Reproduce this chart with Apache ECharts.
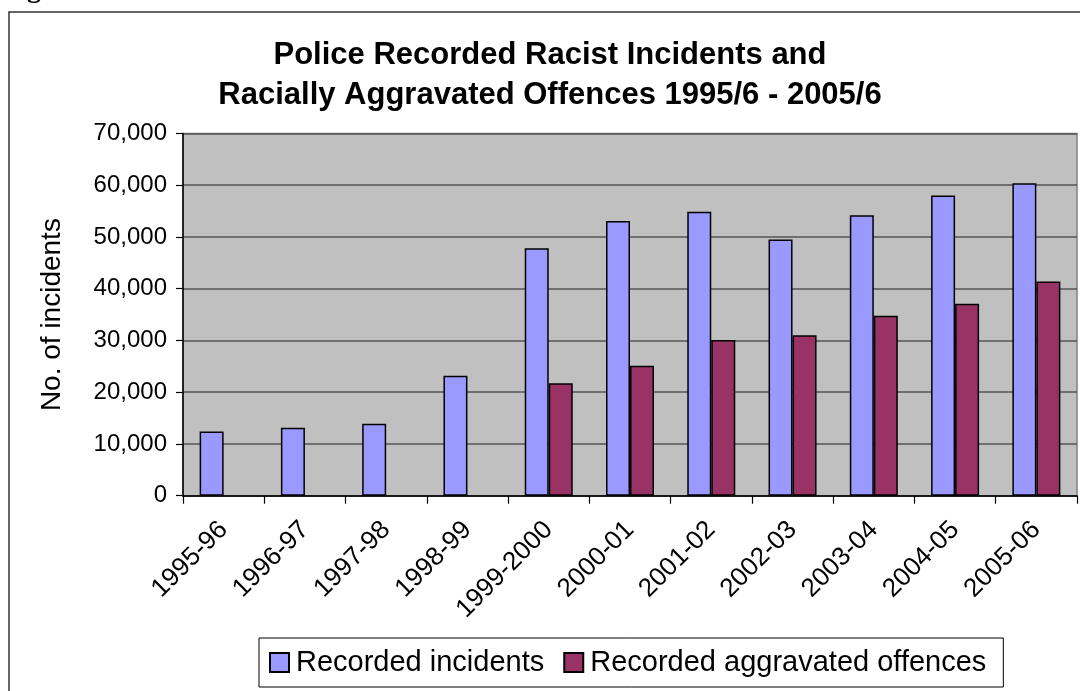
<!DOCTYPE html>
<html>
<head>
<meta charset="utf-8">
<script src="https://cdn.jsdelivr.net/npm/echarts@6/dist/echarts.min.js"></script>
<style>
  html, body { margin: 0; padding: 0; background: #fff; }
  #chart { width: 1080px; height: 691px; }
</style>
</head>
<body>
<div id="chart"></div>
<script>
var years = ["1995-96", "1996-97", "1997-98", "1998-99", "1999-2000", "2000-01",
             "2001-02", "2002-03", "2003-04", "2004-05", "2005-06"];
var incidents = [12400, 13150, 13900, 23200, 47800, 53100, 54900, 49500, 54200, 58000, 60400];
var aggravated = [null, null, null, null, 21750, 25100, 30100, 31000, 34800, 37100, 41400];
var yTicks = [0, 10000, 20000, 30000, 40000, 50000, 60000, 70000];

var font = "'Liberation Sans', Arial, sans-serif";
var chart = echarts.init(document.getElementById("chart"));

var option = {
    animation: false,
    backgroundColor: "#fff",
    title: {
        text: "Police Recorded Racist Incidents and\nRacially Aggravated Offences 1995/6 - 2005/6",
        left: 550, top: 35, padding: 0,
        textAlign: "center",
        textStyle: { fontFamily: font, fontSize: 31, fontWeight: "bold", color: "#000", lineHeight: 40 }
    },
    graphic: [
        { type: "rect", z: -1, shape: { x: 9, y: 12, width: 1100, height: 720 },
          style: { fill: "none", stroke: "#333", lineWidth: 1.5 } },
        { type: "text", left: 2, top: -24,
          style: { text: "Figure", font: "bold 28px 'Liberation Serif', serif", fill: "#000" } }
    ],
    legend: {
        data: ["Recorded incidents", "Recorded aggravated offences"],
        left: 259, top: 638,
        padding: [10, 17, 10, 10],
        itemGap: 19,
        itemWidth: 19, itemHeight: 19,
        icon: "rect",
        borderColor: "#000", borderWidth: 1,
        backgroundColor: "#fff",
        textStyle: { fontFamily: font, fontSize: 29, color: "#000", padding: [0, 0, 0, 2] }
    },
    grid: {
        left: 183, right: 3, top: 133.5, bottom: 195.3,
        show: true, backgroundColor: "#c0c0c0", borderColor: "#808080", borderWidth: 1.5
    },
    xAxis: {
        type: "category",
        data: years,
        axisLine: { lineStyle: { color: "#000", width: 1.5 } },
        axisTick: { show: true, length: 8, lineStyle: { color: "#000", width: 1.2 } },
        axisLabel: { rotate: 45, margin: 30, fontFamily: font, fontSize: 26, color: "#000", interval: 0 }
    },
    yAxis: {
        type: "value",
        min: yTicks[0], max: yTicks[yTicks.length - 1], interval: 10000,
        name: "No. of incidents",
        nameLocation: "middle",
        nameGap: 117,
        nameTextStyle: { fontFamily: font, fontSize: 28, color: "#000" },
        axisLine: { show: true, lineStyle: { color: "#000", width: 1.5 } },
        axisTick: { show: true, length: 7, lineStyle: { color: "#000", width: 1.2 } },
        splitLine: { lineStyle: { color: "#555", width: 1.5 } },
        axisLabel: {
            margin: 16, fontFamily: font, fontSize: 24, color: "#000",
            formatter: function (v) { return v.toLocaleString("en-US"); }
        }
    },
    series: [
        {
            name: "Recorded incidents",
            type: "bar",
            data: incidents,
            barWidth: 24,
            barGap: "0%",
            itemStyle: { color: "#9999ff", borderColor: "#000", borderWidth: 1.5 }
        },
        {
            name: "Recorded aggravated offences",
            type: "bar",
            data: aggravated,
            barWidth: 24,
            itemStyle: { color: "#993366", borderColor: "#000", borderWidth: 1.5 }
        }
    ]
};

chart.setOption(option);
window.addEventListener("resize", function () { chart.resize(); });
</script>
</body>
</html>
